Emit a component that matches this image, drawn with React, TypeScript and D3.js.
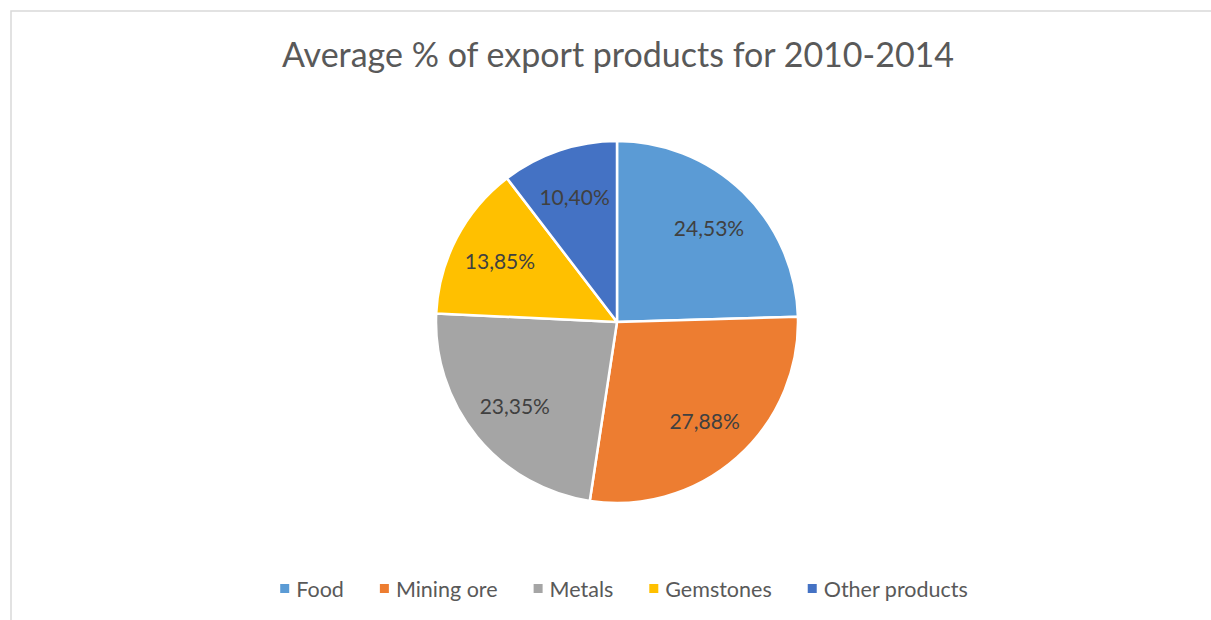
import React, { useEffect, useRef } from "react";
import * as d3 from "d3";

const categories = ["Food", "Mining ore", "Metals", "Gemstones", "Other products"];
const values = [24.53, 27.88, 23.35, 13.85, 10.4];
const labels = ["24,53%", "27,88%", "23,35%", "13,85%", "10,40%"];
const colors = ["#5B9BD5", "#ED7D31", "#A5A5A5", "#FFC000", "#4472C4"];
const title = "Average % of export products for 2010-2014";

const W = 1211;
const H = 620;
const FONT = "Lato, 'Open Sans', sans-serif";

export default function App() {
  const ref = useRef<SVGSVGElement | null>(null);

  useEffect(() => {
    const svg = d3.select(ref.current);
    svg.selectAll("*").remove();

    svg
      .append("rect")
      .attr("x", 11)
      .attr("y", 11)
      .attr("width", W + 20)
      .attr("height", H + 20)
      .attr("fill", "#fff")
      .attr("stroke", "#d9d9d9")
      .attr("stroke-width", 1.5);

    svg
      .append("text")
      .attr("x", 618)
      .attr("y", 67)
      .attr("text-anchor", "middle")
      .attr("font-family", FONT)
      .attr("font-size", 34)
      .attr("fill", "#595959")
      .text(title);

    const cx = 617;
    const cy = 322;
    const R = 181;
    const data = categories.map((c, i) => ({ c, v: values[i], l: labels[i], col: colors[i] }));
    const pie = d3
      .pie<any>()
      .sort(null)
      .value((d) => d.v)
      .startAngle(0)
      .endAngle(2 * Math.PI);
    const arcs = pie(data);
    const arc = d3.arc<any>().innerRadius(0).outerRadius(R);
    const labelArc = d3.arc<any>().innerRadius(R * 0.73).outerRadius(R * 0.73);

    const g = svg.append("g").attr("transform", `translate(${cx},${cy})`);
    g.selectAll("path.slice")
      .data(arcs)
      .join("path")
      .attr("class", "slice")
      .attr("d", arc as any)
      .attr("fill", (d: any) => d.data.col)
      .attr("stroke", "#fff")
      .attr("stroke-width", 2.5)
      .attr("stroke-linejoin", "round");

    g.selectAll("text.lbl")
      .data(arcs)
      .join("text")
      .attr("class", "lbl")
      .attr("x", (d: any) => labelArc.centroid(d)[0])
      .attr("y", (d: any) => labelArc.centroid(d)[1])
      .attr("text-anchor", "middle")
      .attr("dominant-baseline", "central")
      .attr("font-family", FONT)
      .attr("font-size", 21)
      .attr("fill", "#404040")
      .text((d: any) => d.data.l);

    // legend
    const lg = svg.append("g");
    const items = lg
      .selectAll("g.item")
      .data(data)
      .join("g")
      .attr("class", "item");
    items
      .append("rect")
      .attr("width", 9)
      .attr("height", 9)
      .attr("y", 584)
      .attr("fill", (d: any) => d.col);
    const texts = items
      .append("text")
      .attr("y", 588.5)
      .attr("dominant-baseline", "central")
      .attr("font-family", FONT)
      .attr("font-size", 21.5)
      .attr("fill", "#595959")
      .text((d: any) => d.c);

    const widths: number[] = [];
    texts.each(function () {
      widths.push((this as SVGTextElement).getComputedTextLength());
    });
    const sq = 9;
    const gapSqText = 7;
    const gapItems = 36;
    const total =
      widths.reduce((a, b) => a + b + sq + gapSqText, 0) + gapItems * (widths.length - 1);
    let x = 624 - total / 2;
    items.each(function (_d, i) {
      const it = d3.select(this);
      it.select("rect").attr("x", x);
      it.select("text").attr("x", x + sq + gapSqText);
      x += sq + gapSqText + widths[i] + gapItems;
    });
  }, []);

  return (
    <svg
      ref={ref}
      width={W}
      height={H}
      style={{ position: "absolute", left: 0, top: 0, background: "#fff" }}
    />
  );
}
